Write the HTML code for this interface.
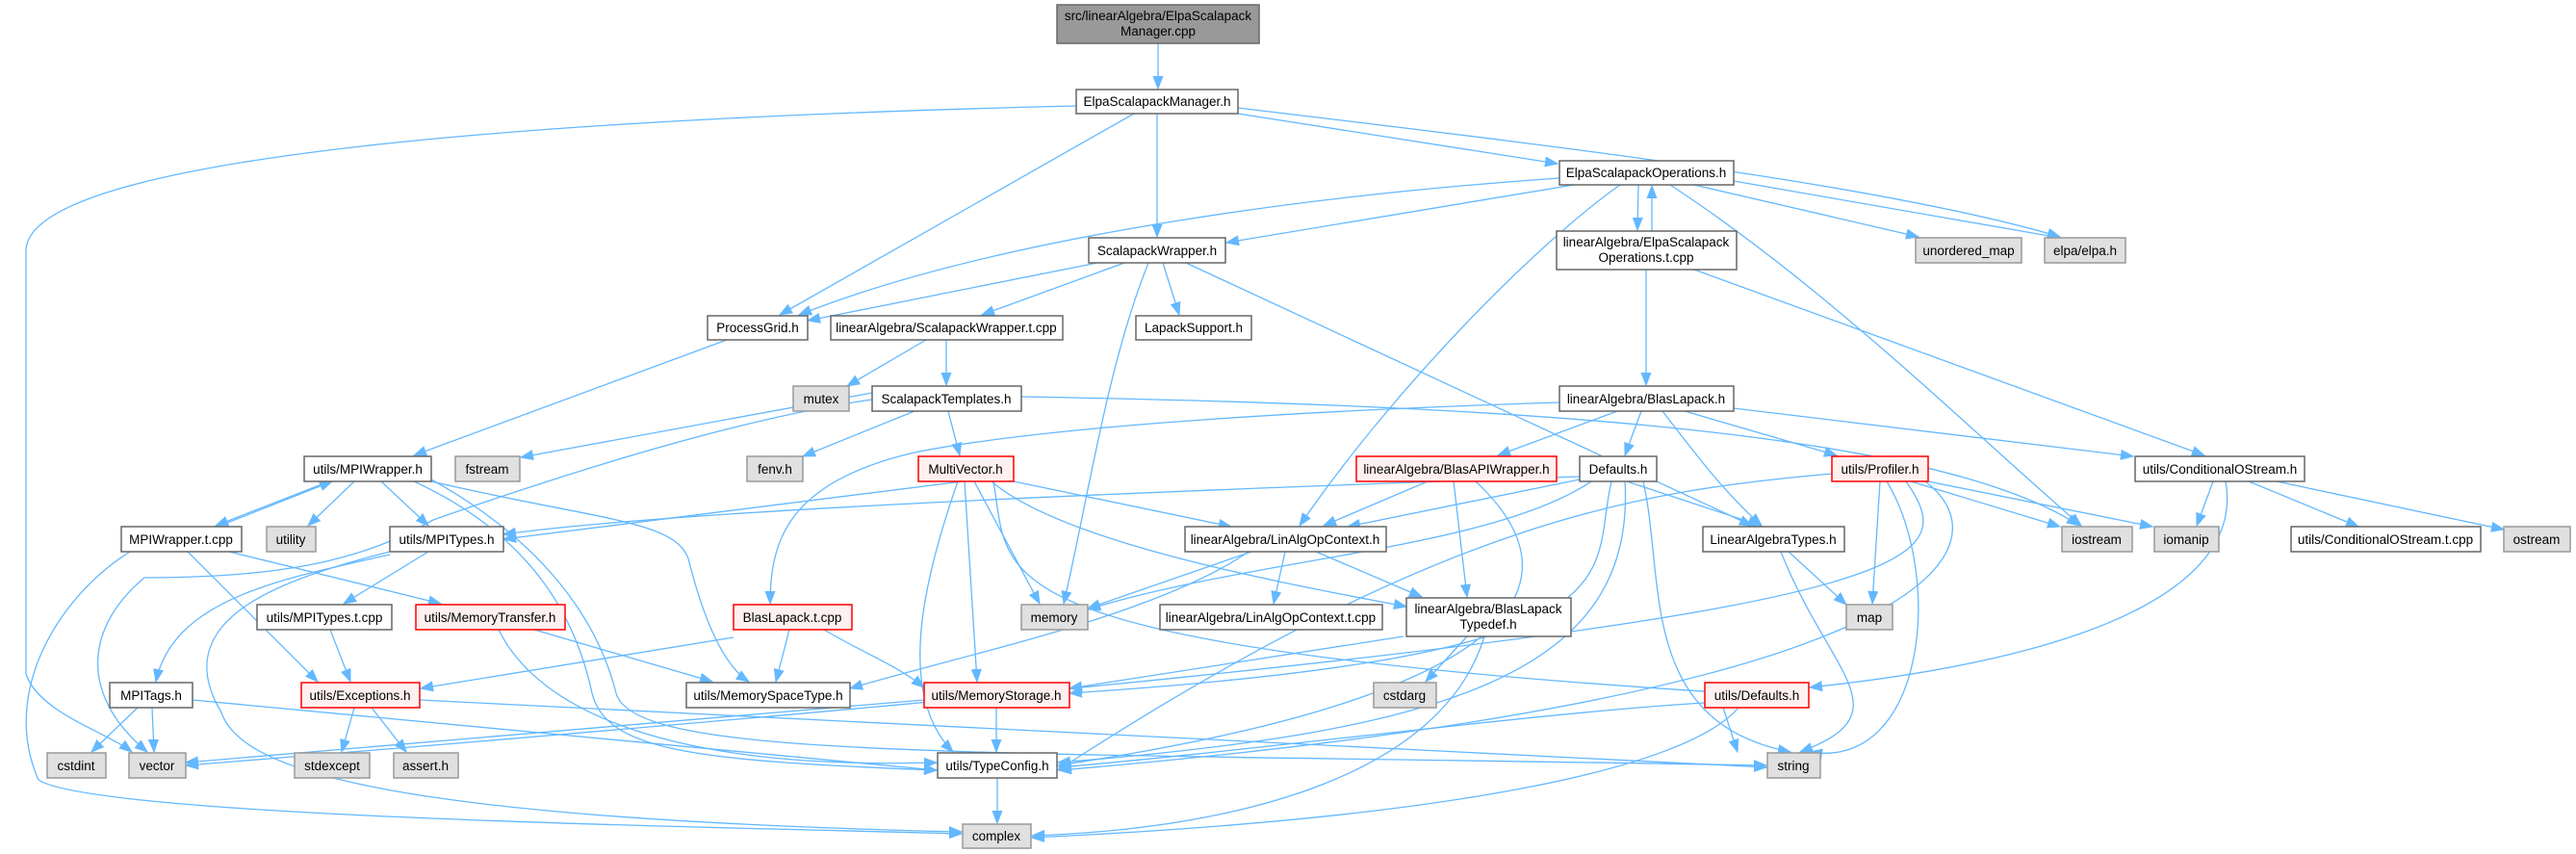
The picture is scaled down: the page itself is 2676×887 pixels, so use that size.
<!DOCTYPE html>
<html><head><meta charset="utf-8"><style>
html,body{margin:0;padding:0;background:#fff;}
svg{display:block;}
text{font-family:"Liberation Sans",Helvetica,sans-serif;font-size:13.5px;fill:#000;text-anchor:middle;}
.n rect{fill:#fff;stroke:#666;stroke-width:1.5;}
.g rect{fill:#e0e0e0;stroke:#999;stroke-width:1.5;}
.r rect{fill:#fff0f0;stroke:#f00;stroke-width:1.5;}
.root rect{fill:#999;stroke:#666;stroke-width:1.5;}
.e path{fill:none;stroke:#63b8ff;stroke-width:1.3;marker-end:url(#a);}
</style></head><body>
<svg width="2676" height="887" viewBox="0 0 2676 887" xmlns="http://www.w3.org/2000/svg">
<defs><marker id="a" markerUnits="userSpaceOnUse" markerWidth="14" markerHeight="12" refX="13" refY="6" orient="auto"><path d="M0,1 L13,6 L0,11 Z" fill="#63b8ff" stroke="#63b8ff"/></marker></defs>
<g class="e">
<path d="M1203,45 L1203,92"/>
<path d="M1118,110 C700,120 30,150 27,260 L27,700 C40,740 110,760 137,781"/>
<path d="M1178,118 L810,327"/>
<path d="M1202,118 L1202,246"/>
<path d="M1286,118 L1618,170"/>
<path d="M1286,112 C1600,150 1950,190 2140,246"/>
<path d="M1620,185 C1400,200 1050,240 830,327"/>
<path d="M1635,192 L1274,252"/>
<path d="M1702,192 L1701,239"/>
<path d="M1716,240 L1716,193"/>
<path d="M1683,192 C1600,250 1450,400 1350,546"/>
<path d="M1760,192 L1993,246"/>
<path d="M1801,188 L2140,247"/>
<path d="M1735,192 C1900,300 2050,450 2162,546"/>
<path d="M1710,280 L1710,400"/>
<path d="M1760,280 L2290,473"/>
<path d="M1140,273 L839,333"/>
<path d="M1168,273 L1020,327"/>
<path d="M1208,273 L1225,327"/>
<path d="M1193,273 C1150,380 1130,520 1105,627"/>
<path d="M1232,273 L1820,546"/>
<path d="M962,353 L880,401"/>
<path d="M983,353 L983,400"/>
<path d="M755,353 L430,473"/>
<path d="M906,408 L541,475"/>
<path d="M950,427 L834,474"/>
<path d="M985,427 L997,473"/>
<path d="M906,415 C800,430 650,470 450,540 C380,580 300,600 150,600 C90,650 80,720 153,781"/>
<path d="M1061,412 C1500,420 2000,440 2160,546"/>
<path d="M1620,418 C1400,425 1100,440 950,470 C820,500 800,560 800,627"/>
<path d="M1680,427 L1556,473"/>
<path d="M1705,427 L1688,473"/>
<path d="M1727,427 C1760,470 1790,510 1830,546"/>
<path d="M1750,427 L1908,473"/>
<path d="M1801,424 L2216,474"/>
<path d="M342,500 L224,546"/>
<path d="M226,547 L345,500"/>
<path d="M368,500 L320,546"/>
<path d="M396,500 L445,546"/>
<path d="M448,500 C620,540 700,540 715,580 C730,640 750,690 778,708"/>
<path d="M430,500 C560,560 600,650 615,720 C630,780 720,790 973,800"/>
<path d="M448,498 C560,560 620,640 640,720 C660,790 1000,780 1835,795"/>
<path d="M195,573 L330,708"/>
<path d="M238,573 L458,627"/>
<path d="M135,573 C60,620 0,720 40,810 C100,850 800,860 999,866"/>
<path d="M445,573 L357,627"/>
<path d="M405,576 C300,600 180,620 162,708"/>
<path d="M405,573 C300,600 170,640 230,740 C250,800 400,850 999,864"/>
<path d="M343,654 L364,708"/>
<path d="M555,654 L740,708"/>
<path d="M518,654 C560,740 700,800 973,792"/>
<path d="M143,735 L95,781"/>
<path d="M158,735 L160,781"/>
<path d="M200,727 L973,800"/>
<path d="M368,735 L355,781"/>
<path d="M386,735 L422,781"/>
<path d="M436,727 L1835,797"/>
<path d="M762,662 L437,715"/>
<path d="M820,654 L806,708"/>
<path d="M856,654 C900,680 930,690 960,714"/>
<path d="M1000,500 L523,560"/>
<path d="M1053,500 L1279,547"/>
<path d="M1012,500 L1080,627"/>
<path d="M1030,500 C1100,560 1300,600 1461,630"/>
<path d="M1002,500 L1015,708"/>
<path d="M995,500 C960,600 930,720 990,781"/>
<path d="M1032,500 C1050,600 1000,670 1800,720"/>
<path d="M1483,500 L1375,546"/>
<path d="M1510,500 L1524,620"/>
<path d="M1533,500 C1640,600 1600,720 1099,795"/>
<path d="M1641,498 L1400,547"/>
<path d="M1653,500 C1550,570 1300,580 1130,633"/>
<path d="M1641,495 C1200,510 700,530 523,555"/>
<path d="M1690,500 L1829,546"/>
<path d="M1707,500 C1730,600 1700,750 1860,781"/>
<path d="M1674,500 C1650,600 1720,680 1111,720"/>
<path d="M1688,500 C1700,700 1500,760 1099,792"/>
<path d="M1300,573 L1130,632"/>
<path d="M1335,573 L1323,627"/>
<path d="M1367,573 L1477,620"/>
<path d="M1297,573 C1200,640 1000,680 883,715"/>
<path d="M1458,661 L1111,715"/>
<path d="M1524,661 L1481,708"/>
<path d="M1542,661 C1500,800 1300,860 1072,868"/>
<path d="M1035,735 L1035,781"/>
<path d="M960,727 L193,792"/>
<path d="M1036,808 L1036,855"/>
<path d="M1858,573 L1918,628"/>
<path d="M1850,573 C1900,700 1980,740 1870,781"/>
<path d="M1953,500 L1945,627"/>
<path d="M1985,500 L2140,547"/>
<path d="M2003,500 L2236,547"/>
<path d="M1960,500 C2020,600 2000,800 1880,781"/>
<path d="M1903,492 C1700,510 1500,540 1099,800"/>
<path d="M2000,500 C2080,560 2050,720 1100,800"/>
<path d="M1980,500 C2050,600 2000,650 193,795"/>
<path d="M2299,500 L2282,546"/>
<path d="M2336,500 L2450,547"/>
<path d="M2365,500 L2601,550"/>
<path d="M2312,500 C2330,600 2200,680 1880,714"/>
<path d="M1790,735 L1805,781"/>
<path d="M1806,735 C1750,800 1500,850 1072,870"/>
<path d="M1771,730 C1600,740 1300,780 1100,797"/>
</g>
<g class="root"><rect x="1098" y="5" width="210" height="40"/><text x="1203" y="21">src/linearAlgebra/ElpaScalapack</text><text x="1203" y="37">Manager.cpp</text></g>
<g class="n"><rect x="1118" y="93" width="168" height="25"/><text x="1202" y="110">ElpaScalapackManager.h</text></g>
<g class="n"><rect x="1620" y="167" width="181" height="25"/><text x="1710" y="184">ElpaScalapackOperations.h</text></g>
<g class="n"><rect x="1131" y="247" width="142" height="26"/><text x="1202" y="265">ScalapackWrapper.h</text></g>
<g class="n"><rect x="1617" y="240" width="187" height="40"/><text x="1710" y="256">linearAlgebra/ElpaScalapack</text><text x="1710" y="272">Operations.t.cpp</text></g>
<g class="g"><rect x="1990" y="247" width="110" height="26"/><text x="2045" y="265">unordered_map</text></g>
<g class="g"><rect x="2124" y="247" width="84" height="26"/><text x="2166" y="265">elpa/elpa.h</text></g>
<g class="n"><rect x="735" y="328" width="104" height="25"/><text x="787" y="345">ProcessGrid.h</text></g>
<g class="n"><rect x="863" y="328" width="241" height="25"/><text x="983" y="345">linearAlgebra/ScalapackWrapper.t.cpp</text></g>
<g class="n"><rect x="1180" y="328" width="120" height="25"/><text x="1240" y="345">LapackSupport.h</text></g>
<g class="g"><rect x="824" y="401" width="58" height="26"/><text x="853" y="419">mutex</text></g>
<g class="n"><rect x="906" y="401" width="155" height="26"/><text x="983" y="419">ScalapackTemplates.h</text></g>
<g class="n"><rect x="1620" y="401" width="181" height="26"/><text x="1710" y="419">linearAlgebra/BlasLapack.h</text></g>
<g class="n"><rect x="316" y="474" width="132" height="26"/><text x="382" y="492">utils/MPIWrapper.h</text></g>
<g class="g"><rect x="473" y="474" width="67" height="26"/><text x="506" y="492">fstream</text></g>
<g class="g"><rect x="776" y="474" width="58" height="26"/><text x="805" y="492">fenv.h</text></g>
<g class="r"><rect x="954" y="474" width="99" height="26"/><text x="1003" y="492">MultiVector.h</text></g>
<g class="r"><rect x="1409" y="474" width="208" height="26"/><text x="1513" y="492">linearAlgebra/BlasAPIWrapper.h</text></g>
<g class="n"><rect x="1641" y="474" width="80" height="26"/><text x="1681" y="492">Defaults.h</text></g>
<g class="r"><rect x="1903" y="474" width="100" height="26"/><text x="1953" y="492">utils/Profiler.h</text></g>
<g class="n"><rect x="2218" y="474" width="176" height="26"/><text x="2306" y="492">utils/ConditionalOStream.h</text></g>
<g class="n"><rect x="126" y="547" width="125" height="26"/><text x="188" y="565">MPIWrapper.t.cpp</text></g>
<g class="g"><rect x="277" y="547" width="51" height="26"/><text x="302" y="565">utility</text></g>
<g class="n"><rect x="405" y="547" width="118" height="26"/><text x="464" y="565">utils/MPITypes.h</text></g>
<g class="n"><rect x="1231" y="547" width="209" height="26"/><text x="1335" y="565">linearAlgebra/LinAlgOpContext.h</text></g>
<g class="n"><rect x="1769" y="547" width="147" height="26"/><text x="1842" y="565">LinearAlgebraTypes.h</text></g>
<g class="g"><rect x="2142" y="547" width="73" height="26"/><text x="2178" y="565">iostream</text></g>
<g class="g"><rect x="2238" y="547" width="67" height="26"/><text x="2271" y="565">iomanip</text></g>
<g class="n"><rect x="2380" y="547" width="197" height="26"/><text x="2478" y="565">utils/ConditionalOStream.t.cpp</text></g>
<g class="g"><rect x="2601" y="547" width="69" height="26"/><text x="2635" y="565">ostream</text></g>
<g class="n"><rect x="267" y="628" width="140" height="26"/><text x="337" y="646">utils/MPITypes.t.cpp</text></g>
<g class="r"><rect x="432" y="628" width="155" height="26"/><text x="509" y="646">utils/MemoryTransfer.h</text></g>
<g class="r"><rect x="762" y="628" width="123" height="26"/><text x="823" y="646">BlasLapack.t.cpp</text></g>
<g class="g"><rect x="1061" y="628" width="69" height="26"/><text x="1095" y="646">memory</text></g>
<g class="n"><rect x="1205" y="628" width="231" height="26"/><text x="1320" y="646">linearAlgebra/LinAlgOpContext.t.cpp</text></g>
<g class="n"><rect x="1461" y="621" width="171" height="40"/><text x="1546" y="637">linearAlgebra/BlasLapack</text><text x="1546" y="653">Typedef.h</text></g>
<g class="g"><rect x="1918" y="628" width="48" height="26"/><text x="1942" y="646">map</text></g>
<g class="n"><rect x="114" y="709" width="86" height="26"/><text x="157" y="727">MPITags.h</text></g>
<g class="r"><rect x="313" y="709" width="123" height="26"/><text x="374" y="727">utils/Exceptions.h</text></g>
<g class="n"><rect x="713" y="709" width="170" height="26"/><text x="798" y="727">utils/MemorySpaceType.h</text></g>
<g class="r"><rect x="960" y="709" width="151" height="26"/><text x="1035" y="727">utils/MemoryStorage.h</text></g>
<g class="g"><rect x="1427" y="709" width="65" height="26"/><text x="1459" y="727">cstdarg</text></g>
<g class="r"><rect x="1771" y="709" width="108" height="26"/><text x="1825" y="727">utils/Defaults.h</text></g>
<g class="g"><rect x="49" y="782" width="61" height="26"/><text x="79" y="800">cstdint</text></g>
<g class="g"><rect x="134" y="782" width="59" height="26"/><text x="163" y="800">vector</text></g>
<g class="g"><rect x="306" y="782" width="78" height="26"/><text x="345" y="800">stdexcept</text></g>
<g class="g"><rect x="409" y="782" width="67" height="26"/><text x="442" y="800">assert.h</text></g>
<g class="n"><rect x="974" y="782" width="124" height="26"/><text x="1036" y="800">utils/TypeConfig.h</text></g>
<g class="g"><rect x="1836" y="782" width="55" height="26"/><text x="1863" y="800">string</text></g>
<g class="g"><rect x="1000" y="856" width="71" height="25"/><text x="1035" y="873">complex</text></g>
</svg>
</body></html>
